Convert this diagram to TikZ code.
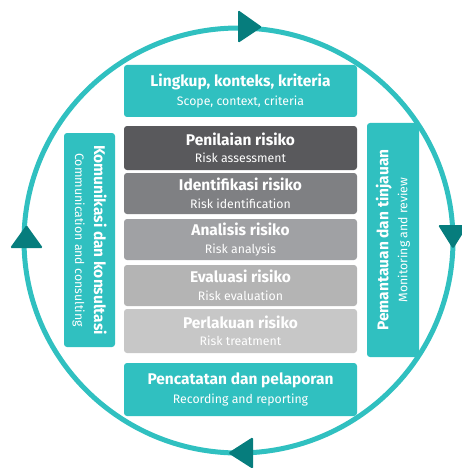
\documentclass[tikz,border=0pt]{standalone}
\usepackage{fontspec}
\setmainfont{Fira Sans}
\definecolor{tealA}{HTML}{30C0C0}
\definecolor{tealB}{HTML}{067D7D}
\definecolor{grayA}{HTML}{59595C}
\definecolor{grayB}{HTML}{7F8083}
\definecolor{grayC}{HTML}{A0A1A4}
\definecolor{grayD}{HTML}{B4B4B4}
\definecolor{grayE}{HTML}{C7C7C7}
\newcommand\tbold[1]{{\fontsize{15.5}{18}\selectfont\bfseries #1}}
\begin{document}
\begin{tikzpicture}[x=1pt,y=-1pt,
  box/.style={rounded corners=3pt, minimum width=233pt, align=center, text=white,
    inner sep=0pt, font=\fontsize{12.3}{17.5}\selectfont},
  bigbox/.style={box, font=\fontsize{12.3}{18.5}\selectfont},
  sidebox/.style={rounded corners=3pt, fill=tealA, inner sep=0pt},
  sidetext/.style={align=center, text=white, inner sep=0pt, font=\fontsize{12.3}{19}\selectfont},
  head/.style={fill=tealB, rounded corners=1.5pt}]
\useasboundingbox (0,0) rectangle (461,468);
\draw[tealA, line width=5pt] (238.5,240.5) ellipse [x radius=214.5, y radius=212.5];
% arrowheads
\fill[head] (238,10) -- (262,27) -- (238,43) -- cycle;
\fill[head] (10,248) -- (26.5,225) -- (43,248) -- cycle;
\fill[head] (438,225) -- (468,225) -- (453,249) -- cycle;
\fill[head] (253,437) -- (228,453) -- (253,469) -- cycle;
% central column
\node[bigbox, fill=tealA, minimum height=52pt] (scope) at (240.5,91) {\tbold{Lingkup, konteks, kriteria}\\Scope, context, criteria};
\node[box, fill=grayA, minimum height=44pt] (assess) at (240.5,148) {\tbold{Penilaian risiko}\\Risk assessment};
\node[box, fill=grayB, minimum height=41pt] (ident) at (240.5,193.5) {\tbold{Identifikasi risiko}\\Risk identification};
\node[box, fill=grayC, minimum height=41pt] (anal) at (240.5,239.5) {\tbold{Analisis risiko}\\Risk analysis};
\node[box, fill=grayD, minimum height=41pt] (eval) at (240.5,285.5) {\tbold{Evaluasi risiko}\\Risk evaluation};
\node[box, fill=grayE, minimum height=44pt] (treat) at (240.5,331) {\tbold{Perlakuan risiko}\\Risk treatment};
\node[bigbox, fill=tealA, minimum height=53pt] (record) at (240.5,389.5) {\tbold{Pencatatan dan pelaporan}\\Recording and reporting};
% side boxes
\node[sidebox, minimum width=51pt, minimum height=214pt] (comm) at (89.5,240) {};
\node[sidetext, rotate=-90] (commtext) at (comm.center) {\tbold{Komunikasi dan konsultasi}\\Communication and consulting};
\node[sidebox, minimum width=52pt, minimum height=234pt] (mon) at (393,240) {};
\node[sidetext, rotate=90] (montext) at (mon.center) {\tbold{Pemantauan dan tinjauan}\\Monitoring and review};
\end{tikzpicture}
\end{document}
